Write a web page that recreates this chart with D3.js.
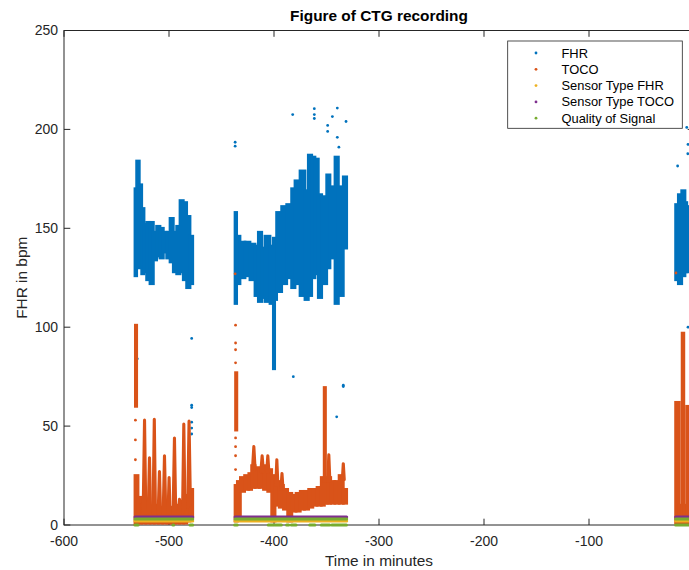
<!DOCTYPE html>
<html><head><meta charset="utf-8">
<script src="https://cdn.jsdelivr.net/npm/d3@7"></script>
<style>
body{margin:0;background:#fff;}
svg{display:block;font-family:"Liberation Sans",Arial,Helvetica,sans-serif;}
</style>
</head><body>
<svg id="chart" width="689" height="570"></svg>
<script>
// ---------------- DATA ----------------
const xTicks = [-600, -500, -400, -300, -200, -100];
const yTicks = [0, 50, 100, 150, 200, 250];
const legendLabels = ["FHR", "TOCO", "Sensor Type FHR", "Sensor Type TOCO", "Quality of Signal"];
const titleText = "Figure of CTG recording";
const xLabelText = "Time in minutes";
const yLabelText = "FHR in bpm";

// recording segments (minutes)
const segStart = [-532.4, -437.1, -17.5];
const segEnd   = [-477.4, -330.8, 0];

// FHR value range per time bin (bin start time, low bpm, high bpm)
const fhrT  = [-532.4,-530.8,-528.3,-526.0,-523.8,-521.3,-518.1,-514.9,-511.8,-508.6,-505.4,-502.2,-499.0,-495.9,-492.7,-489.5,-486.4,-483.2,-480.0,
               -437.1,-435.6,-432.4,-427.6,-422.9,-418.1,-414.9,-411.7,-408.6,-403.8,-400.6,-397.5,-392.7,-387.9,-383.2,-380.0,-375.2,-370.5,-367.3,-364.1,-361.0,-357.8,-354.6,-349.8,-346.7,-341.9,-338.7,-334.0,
               -17.5,-14.9,-11.7,-8.6,-6.9];
const fhrLo = [126,134,130,127,128,124,122,134,136,135,138,135,133,128,127,128,124,120,122,
               112,122,125,126,124,116,113,115,113,112,114,118,122,125,120,122,116,114,116,125,127,115,122,130,135,112,116,140,
               124,122,126,128,128];
const fhrHi = [170,184,172,160,152,153,153,148,151,150,148,148,155,148,151,164,163,156,146,
               158,146,143,143,142,141,148,140,146,141,145,158,161,162,170,174,179,169,187,186,185,167,166,177,171,186,171,176,
               162,167,169,163,161];
// FHR short excursions (start time, low, high)
const fhrExcT  = [-400.6];
const fhrExcLo = [79];
const fhrExcHi = [116];
// FHR isolated samples
const fhrDotT = [-530.2,-478.4,-478.4,-478.4,-478.4,-478.4,-478.4,-437.0,-437.0,-382.2,-361.6,-361.6,-361.6,-348.9,-348.9,-344.4,-339.7,-339.7,-338.2,-331.4,-381.6,-340.3,-334.0,-334.0,-15.6,-5.7,-5.9,-6.9,-5.7];
const fhrDotV = [84,94.3,60.6,59.4,52,49,46,193.5,191.5,207.5,210.5,207.5,205.5,202,199,206.5,210.8,196,191,204,75,54.7,70.7,70,181.5,192.4,187.7,201,100];

// TOCO value range per time bin (bin start time, low, high)
const tocoT  = [-532.4,-529.5,-526,-522,-518,-514,-510,-506,-502,-498,-494,-490,-486,-483,-480,
                -437.1,-434.9,-432,-428,-424,-421.3,-418,-414,-410,-406,-402.2,-399,-395,-391,-387,-383,-379,-375,-371,-367,-363,-359,-355,-352,-349,-346,-342,-338,-334,
                -17.5,-14.0,-11.3,-9.7,-7.0];
const tocoLo = [0.5,1,1,1,1,1,1,1,1,1,1,1,1,2,4,
                2,3,17,18,18,19,19,19,18,17,2,10,9,8,2,7,7,8,8,9,10,10,10,11,11,11,11,11,11,
                1,1,1,1,1];
const tocoHi = [25,14,10,8,8,10,8,9,8,9,10,12,10,15,18,
                20,22,24,25,26,30,29,28,30,28,25,22,20,18,16,15,16,17,17,18,18,19,24,23,24,22,22,25,18,
                62,10,97,10,60];
// TOCO short excursions (start time, low, high)
const tocoExcT  = [-532.0, -436.6, -352.2];
const tocoExcLo = [60, 48, 22];
const tocoExcHi = [101, 77, 69.5];
// TOCO contraction spikes: consecutive triples (rise, peak, fall)
const tocoSpikeT = [-524.6,-523.3,-522.1, -519.8,-518.6,-517.5, -515.2,-514.0,-512.9, -510.3,-509.1,-508.0,
                    -505.5,-504.3,-503.1, -500.9,-499.9,-499.0, -496.1,-494.8,-493.6, -491.2,-490.0,-488.9,
                    -487.1,-485.9,-484.8, -482.2,-480.9,-479.6,
                    -420.5,-419.2,-418.0, -412.5,-411.3,-410.1, -406.9,-405.9,-404.9, -398.3,-397.3,-396.3,
                    -393.4,-392.4,-391.4, -348.8,-347.8,-346.8, -334.9,-334.0,-333.1];
const tocoSpikeV = [6,53,6, 6,34,6, 6,53.5,6, 6,27,6,
                    6,35,6, 6,24,6, 6,44,6, 6,13,6,
                    6,51,8, 9,52.5,10,
                    28,39.6,28, 27,35,27, 27,35,27, 20,33,20,
                    18,26,18, 22,35.5,22, 23,31,23];
// TOCO isolated samples
const tocoDotT = [-532.0,-532.0,-532.0,-436.6,-436.6,-436.6,-436.6,-436.6,-436.6,-436.6,-436.6,-437.0,-17.2];
const tocoDotV = [53,43,33,101,92,88.6,82,44,39.6,35,28,127,127.4];

// constant channels
const sensorTypeFhr = 2;
const sensorTypeToco = 4;
const qualityValue = 3;
const qualZeroStart = [-532.4,-496.3,-480.0,-437.5,-405.5,-399.5,-388.0,-383.5,-366.0,-355.0,-345.0,-17.5];
const qualZeroEnd   = [-529.5,-495.5,-477.4,-435.0,-401.0,-393.0,-386.0,-379.0,-361.0,-347.0,-331.0,0];

// ---------------- DRAW ----------------
const colors = ["#0072BD", "#D95319", "#EDB120", "#7E2F8E", "#77AC30"];
const axisColor = "#262626";
const svg = d3.select("#chart");
const x = d3.scaleLinear().domain([-600, 0]).range([64, 694]);
const y = d3.scaleLinear().domain([0, 250]).range([525, 30.5]);
const r = 1.4;
const tickLen = 6.3;

// axes box
const ax = svg.append("g");
const [x0, x1] = x.range(), [yb, yt] = y.range();
ax.append("rect").attr("x", x0).attr("y", yt).attr("width", x1 - x0).attr("height", yb - yt)
  .attr("fill", "none").attr("stroke", axisColor).attr("stroke-width", 1);
xTicks.forEach(t => {
  ax.append("line").attr("x1", x(t)).attr("x2", x(t)).attr("y1", yb).attr("y2", yb - tickLen).attr("stroke", axisColor);
  ax.append("line").attr("x1", x(t)).attr("x2", x(t)).attr("y1", yt).attr("y2", yt + tickLen).attr("stroke", axisColor);
  ax.append("text").attr("x", x(t)).attr("y", 546).attr("text-anchor", "middle")
    .attr("font-size", 14).attr("fill", axisColor).text(t);
});
yTicks.forEach(v => {
  ax.append("line").attr("x1", x0).attr("x2", x0 + tickLen).attr("y1", y(v)).attr("y2", y(v)).attr("stroke", axisColor);
  ax.append("line").attr("x1", x1).attr("x2", x1 - tickLen).attr("y1", y(v)).attr("y2", y(v)).attr("stroke", axisColor);
  ax.append("text").attr("x", 58).attr("y", y(v)).attr("dy", "0.35em").attr("text-anchor", "end")
    .attr("font-size", 14).attr("fill", axisColor).text(v);
});
svg.append("text").attr("x", (x0 + x1) / 2).attr("y", 21).attr("text-anchor", "middle")
  .attr("font-size", 15.4).attr("font-weight", "bold").attr("fill", "#000").text(titleText);
svg.append("text").attr("x", (x0 + x1) / 2).attr("y", 566).attr("text-anchor", "middle")
  .attr("font-size", 15.4).attr("fill", axisColor).text(xLabelText);
svg.append("text").attr("transform", `translate(27,${(yb + yt) / 2}) rotate(-90)`).attr("text-anchor", "middle")
  .attr("font-size", 15.4).attr("fill", axisColor).text(yLabelText);

// helpers
function segEndOf(t) {
  for (let j = 0; j < segStart.length; j++) if (t >= segStart[j] - 0.01 && t <= segEnd[j]) return segEnd[j];
  return t + 1;
}
function binEnd(T, i) {
  const n = T[i + 1];
  if (n !== undefined && n > T[i] && n - T[i] < 8) return n;
  return segEndOf(T[i]);
}
function drawBins(g, T, lo, hi, color) {
  g.selectAll(null).data(T.map((t, i) => ({t0: t, t1: binEnd(T, i), lo: lo[i], hi: hi[i]})))
    .enter().append("rect")
    .attr("x", d => x(d.t0) - r).attr("width", d => x(d.t1) - x(d.t0) + 2 * r)
    .attr("y", d => y(d.hi) - r).attr("height", d => y(d.lo) - y(d.hi) + 2 * r)
    .attr("fill", color);
}
function drawExc(g, T, lo, hi, color) {
  g.selectAll(null).data(T.map((t, i) => ({t0: t, t1: t + 1.2, lo: lo[i], hi: hi[i]})))
    .enter().append("rect")
    .attr("x", d => x(d.t0) - r).attr("width", d => x(d.t1) - x(d.t0) + 2 * r)
    .attr("y", d => y(d.hi) - r).attr("height", d => y(d.lo) - y(d.hi) + 2 * r)
    .attr("fill", color);
}
function drawDots(g, T, V, color) {
  g.selectAll(null).data(T.map((t, i) => [t, V[i]])).enter().append("circle")
    .attr("cx", d => x(d[0])).attr("cy", d => y(d[1])).attr("r", r).attr("fill", color);
}
function drawLevel(g, starts, ends, val, color) {
  starts.forEach((s, i) => {
    g.append("line").attr("x1", x(s)).attr("x2", x(ends[i])).attr("y1", y(val)).attr("y2", y(val))
      .attr("stroke", color).attr("stroke-width", 2 * r + 0.2).attr("stroke-linecap", "round");
  });
}

const data = svg.append("g");
// FHR
const gF = data.append("g");
drawBins(gF, fhrT, fhrLo, fhrHi, colors[0]);
drawExc(gF, fhrExcT, fhrExcLo, fhrExcHi, colors[0]);
drawDots(gF, fhrDotT, fhrDotV, colors[0]);
// TOCO
const gT = data.append("g");
drawBins(gT, tocoT, tocoLo, tocoHi, colors[1]);
drawExc(gT, tocoExcT, tocoExcLo, tocoExcHi, colors[1]);
const spikeLine = d3.line().x(d => x(d[0])).y(d => y(d[1]));
for (let i = 0; i + 2 < tocoSpikeT.length; i += 3) {
  const pts = [0, 1, 2].map(k => [tocoSpikeT[i + k], tocoSpikeV[i + k]]);
  gT.append("path").attr("d", spikeLine(pts)).attr("fill", "none").attr("stroke", colors[1])
    .attr("stroke-width", 2 * r + 0.3).attr("stroke-linejoin", "round").attr("stroke-linecap", "round");
}
drawDots(gT, tocoDotT, tocoDotV, colors[1]);
// Sensor types and quality
drawLevel(data.append("g"), segStart, segEnd, sensorTypeFhr, colors[2]);
drawLevel(data.append("g"), segStart, segEnd, sensorTypeToco, colors[3]);
const gQ = data.append("g");
drawLevel(gQ, segStart, segEnd, qualityValue, colors[4]);
drawLevel(gQ, qualZeroStart, qualZeroEnd, 0, colors[4]);

// legend
const lg = svg.append("g");
const lgX = 507.7, lgY = 41, lgW = 174.6, lgH = 87.3;
lg.append("rect").attr("x", lgX).attr("y", lgY).attr("width", lgW).attr("height", lgH)
  .attr("fill", "#fff").attr("stroke", axisColor).attr("stroke-width", 0.8);
legendLabels.forEach((lab, i) => {
  const cy = 53 + i * 16.3;
  lg.append("circle").attr("cx", 536).attr("cy", cy).attr("r", 1.4).attr("fill", colors[i]);
  lg.append("text").attr("x", 561.5).attr("y", cy).attr("dy", "0.35em")
    .attr("font-size", 12.9).attr("fill", "#000").text(lab);
});
</script>
</body></html>
